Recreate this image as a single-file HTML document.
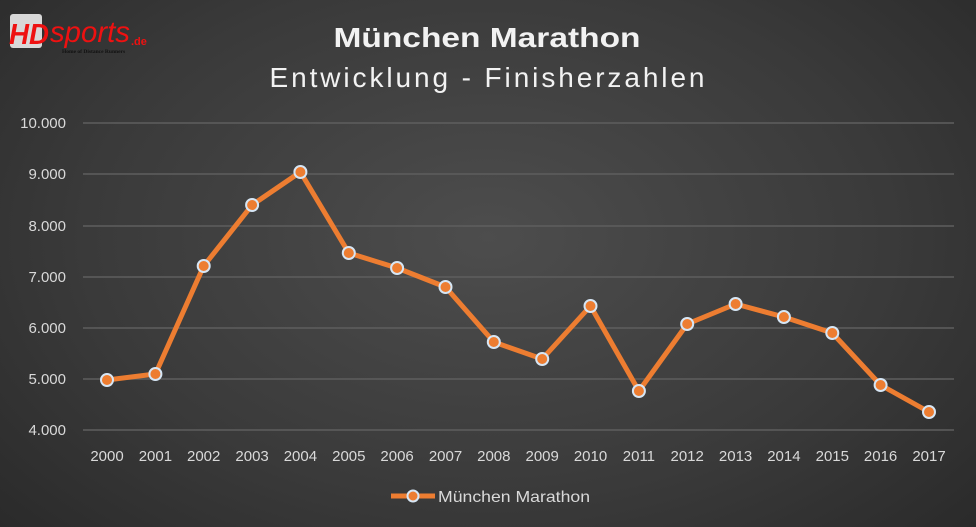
<!DOCTYPE html>
<html><head><meta charset="utf-8"><style>
html,body{margin:0;padding:0;width:976px;height:527px;overflow:hidden}
body{background:radial-gradient(ellipse 75% 90% at 50% 45%,#4d4d4d 0%,#3a3a3a 55%,#262626 100%);font-family:"Liberation Sans",sans-serif}
</style></head><body>
<svg width="976" height="527" viewBox="0 0 976 527" xmlns="http://www.w3.org/2000/svg" style="position:absolute;left:0;top:0">
<g font-family="'Liberation Sans',sans-serif">
<!-- logo -->
<rect x="10" y="14" width="32" height="34" rx="3" fill="#d8d8d8"/>
<text x="9" y="44" font-size="29" font-weight="bold" fill="#ee1111" font-style="italic" textLength="40" lengthAdjust="spacingAndGlyphs">HD</text>
<text x="50" y="42" font-size="30" fill="#ee1111" font-style="italic" textLength="80" lengthAdjust="spacingAndGlyphs">sports</text>
<text x="131" y="45" font-size="11" fill="#ee1111" font-weight="bold">.de</text>
<text x="62" y="53" font-size="5.5" fill="#111" font-family="'Liberation Serif',serif" font-weight="bold">Home of Distance Runners</text>
<!-- titles -->
<text x="487" y="47" text-anchor="middle" font-size="28" font-weight="bold" fill="#f2f2f2" textLength="307" lengthAdjust="spacingAndGlyphs">München Marathon</text>
<text x="487" y="87" text-anchor="middle" font-size="28" fill="#f2f2f2" textLength="435" lengthAdjust="spacing">Entwicklung - Finisherzahlen</text>
<!-- grid -->
<g stroke="#5e5e5e" stroke-width="1.5">
<line x1="83" x2="954" y1="123" y2="123"/><line x1="83" x2="954" y1="174" y2="174"/>
<line x1="83" x2="954" y1="226" y2="226"/><line x1="83" x2="954" y1="277" y2="277"/>
<line x1="83" x2="954" y1="328" y2="328"/><line x1="83" x2="954" y1="379" y2="379"/>
<line x1="83" x2="954" y1="430" y2="430"/>
</g>
<g fill="#d9d9d9" font-size="15" text-anchor="end">
<text x="66" y="128">10.000</text><text x="66" y="179">9.000</text><text x="66" y="231">8.000</text>
<text x="66" y="282">7.000</text><text x="66" y="333">6.000</text><text x="66" y="384">5.000</text><text x="66" y="435">4.000</text>
</g>
<g fill="#d9d9d9" font-size="15" text-anchor="middle">
<text x="107" y="461">2000</text><text x="155.4" y="461">2001</text><text x="203.7" y="461">2002</text><text x="252.1" y="461">2003</text><text x="300.4" y="461">2004</text><text x="348.8" y="461">2005</text><text x="397.1" y="461">2006</text><text x="445.5" y="461">2007</text><text x="493.8" y="461">2008</text><text x="542.2" y="461">2009</text><text x="590.5" y="461">2010</text><text x="638.9" y="461">2011</text><text x="687.2" y="461">2012</text><text x="735.6" y="461">2013</text><text x="783.9" y="461">2014</text><text x="832.3" y="461">2015</text><text x="880.6" y="461">2016</text><text x="929" y="461">2017</text>
</g>
<polyline fill="none" stroke="#ed7d31" stroke-width="5" stroke-linejoin="round" points="107,380 155.4,374 203.7,266 252.1,205 300.4,172 348.8,253 397.1,268 445.5,287 493.8,342 542.2,359 590.5,306 638.9,391 687.2,324 735.6,304 783.9,317 832.3,333 880.6,385 929,412"/>
<g fill="#ed7d31" stroke="#d6e6f5" stroke-width="2">
<circle cx="107" cy="380" r="6"/><circle cx="155.4" cy="374" r="6"/><circle cx="203.7" cy="266" r="6"/><circle cx="252.1" cy="205" r="6"/><circle cx="300.4" cy="172" r="6"/><circle cx="348.8" cy="253" r="6"/><circle cx="397.1" cy="268" r="6"/><circle cx="445.5" cy="287" r="6"/><circle cx="493.8" cy="342" r="6"/><circle cx="542.2" cy="359" r="6"/><circle cx="590.5" cy="306" r="6"/><circle cx="638.9" cy="391" r="6"/><circle cx="687.2" cy="324" r="6"/><circle cx="735.6" cy="304" r="6"/><circle cx="783.9" cy="317" r="6"/><circle cx="832.3" cy="333" r="6"/><circle cx="880.6" cy="385" r="6"/><circle cx="929" cy="412" r="6"/>
</g>
<!-- legend -->
<line x1="391" x2="435" y1="496" y2="496" stroke="#ed7d31" stroke-width="5"/>
<circle cx="413" cy="496" r="5.5" fill="#ed7d31" stroke="#d6e6f5" stroke-width="2"/>
<text x="438" y="502" font-size="16" fill="#d9d9d9" textLength="152" lengthAdjust="spacingAndGlyphs">München Marathon</text>
</g>
</svg>
</body></html>
